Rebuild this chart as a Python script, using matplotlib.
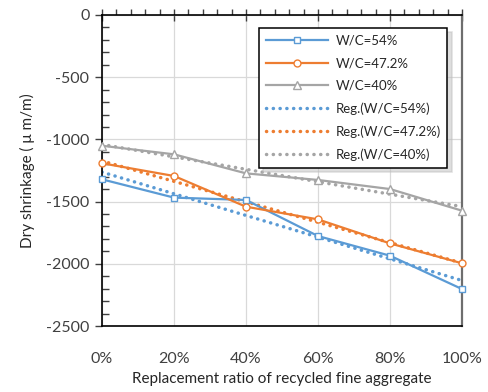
import numpy as np
import matplotlib
matplotlib.use("Agg")
import matplotlib.pyplot as plt
from matplotlib.ticker import MultipleLocator, PercentFormatter

plt.rcParams['font.family'] = ['Lato', 'DejaVu Sans']
plt.rcParams['axes.unicode_minus'] = False

ratios = [0, 20, 40, 60, 80, 100]
wc54 = [-1321, -1468, -1487, -1777, -1935, -2203]
wc472 = [-1192, -1294, -1541, -1643, -1836, -1996]
wc40 = [-1051, -1120, -1273, -1326, -1399, -1573]
names = ["W/C=54%", "W/C=47.2%", "W/C=40%"]
colors = ["#5B9BD5", "#ED7D31", "#A5A5A5"]
markers = ["s", "o", "^"]

fig = plt.figure(figsize=(4.89, 3.92), dpi=100)
ax = fig.add_axes([102/489, 1-326/392, 360/489, 311/392])

series = [wc54, wc472, wc40]
x = np.array(ratios, dtype=float)
handles = []
for ys, n, c, m in zip(series, names, colors, markers):
    h, = ax.plot(x, ys, color=c, lw=1.6, marker=m, ms=5 if m != "^" else 5.5,
                 mfc="white", mec=c, mew=1.0, label=n, zorder=3, clip_on=False)
    handles.append(h)
reg = []
for ys, n, c in zip(series, names, colors):
    k, b = np.polyfit(x, ys, 1)
    h, = ax.plot(x, k*x + b, color=c, lw=2.5, ls=(0, (0.05, 1.9)),
                 dash_capstyle="round", label=f"Reg.({n})", zorder=2)
    reg.append(h)

ax.set_xlim(0, 100)
ax.set_ylim(-2500, 0)
ax.xaxis.set_major_locator(MultipleLocator(20))
ax.xaxis.set_minor_locator(MultipleLocator(4))
ax.xaxis.set_major_formatter(PercentFormatter(decimals=0))
ax.yaxis.set_major_locator(MultipleLocator(500))
ax.yaxis.set_minor_locator(MultipleLocator(100))

ax.grid(True, which="major", color="#D9D9D9", lw=0.9)
ax.set_axisbelow(True)
for s in ["top", "bottom", "left"]:
    ax.spines[s].set_color("#000000")
    ax.spines[s].set_linewidth(1.2)
ax.spines["right"].set_color("#6E6E6E")
ax.spines["right"].set_linewidth(1.6)

ax.tick_params(axis="x", which="both", top=True, bottom=False,
               labelbottom=True, labeltop=False, color="#404040")
ax.tick_params(axis="x", which="major", direction="inout", length=8, width=1,
               labelsize=11.5, pad=15, labelcolor="#404040")
ax.tick_params(axis="x", which="minor", direction="out", length=4, width=1)
ax.tick_params(axis="y", which="major", direction="out", length=5, width=1,
               labelsize=11.5, labelcolor="#404040", color="#404040", pad=4)
ax.tick_params(axis="y", which="minor", direction="in", length=5, width=1,
               color="#404040")

ax.set_xlabel("Replacement ratio of recycled fine aggregate", fontsize=11,
              color="#262626", labelpad=4)
ax.set_ylabel("Dry shrinkage ( μ m/m)", fontsize=11, color="#262626", labelpad=8)

leg = ax.legend(handles + reg, [h.get_label() for h in handles + reg],
                loc="upper left", bbox_to_anchor=(259/489, 1-28/392),
                bbox_transform=fig.transFigure, fontsize=9.5, frameon=True,
                fancybox=False, edgecolor="#000000", framealpha=1,
                handlelength=4.7, labelspacing=0.8, borderpad=0.5,
                handletextpad=0.6, borderaxespad=0,
                shadow={"ox": 3, "oy": -3, "color": "0.75"})
leg.get_frame().set_linewidth(1.1)
for t in leg.get_texts():
    t.set_color("#262626")

fig.savefig("out.png", dpi=100)
